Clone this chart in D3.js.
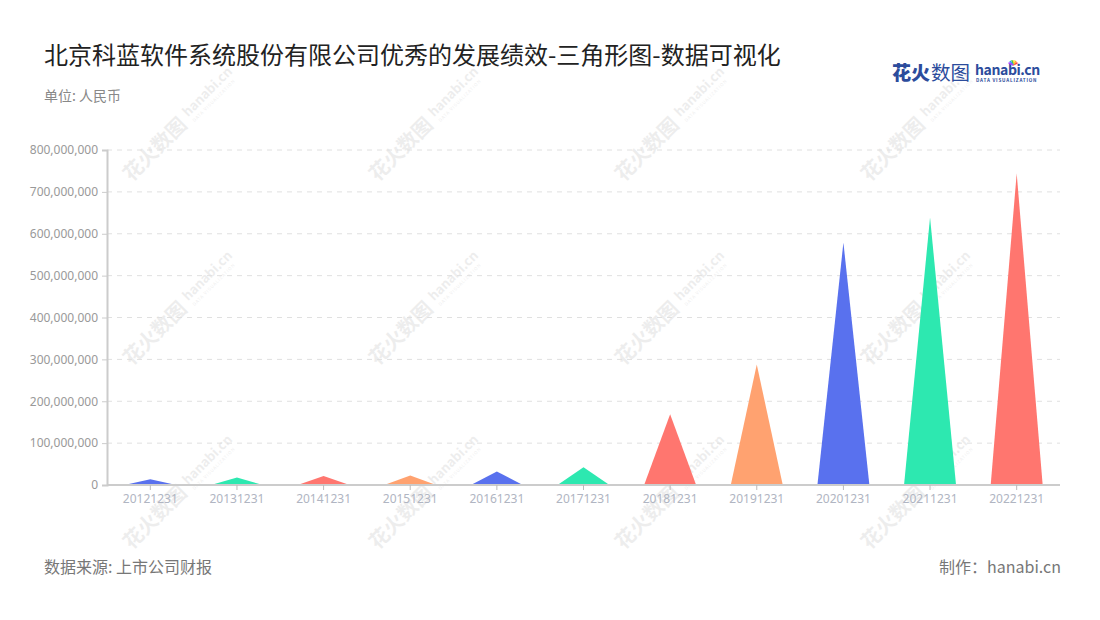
<!DOCTYPE html>
<html><head><meta charset="utf-8">
<script src="https://cdn.jsdelivr.net/npm/d3@7/dist/d3.min.js"></script>
<style>body{margin:0;background:#fff;font-family:"Noto Sans CJK SC","Noto Sans",sans-serif}</style>
</head><body><svg id="c" width="1100" height="620"></svg>
<script>
const categories = ["20121231","20131231","20141231","20151231","20161231","20171231","20181231","20191231","20201231","20211231","20221231"];
const values = [14000000,18000000,21500000,22500000,32000000,42500000,169000000,288000000,579000000,639000000,744000000];
const yTicks = [0,100000000,200000000,300000000,400000000,500000000,600000000,700000000,800000000];
const palette = ["#5971ee","#2de8b0","#ff766f","#ffa270"];

const svg = d3.select("#c");
const M = {l:107, r:1060, t:150, b:485};
const x = d3.scaleBand().domain(categories).range([M.l, M.r]);
const y = d3.scaleLinear().domain([0,800000000]).range([M.b, M.t]);

// watermarks
const wmX = [186,432,678,924], wmY=[118,302,486];
wmX.forEach(cx=>wmY.forEach(cy=>{
  const g = svg.append("g").attr("transform",`translate(${cx},${cy}) rotate(-45)`).attr("opacity",0.065);
  g.append("text").attr("x",-4).attr("y",7).attr("text-anchor","end").attr("font-size",20).attr("font-weight",700).attr("fill","#000").text("花火数图");
  g.append("text").attr("x",2).attr("y",1).attr("font-size",13).attr("font-weight",700).attr("fill","#000").text("hanabi.cn");
  g.append("text").attr("x",3).attr("y",9).attr("font-size",4.5).attr("fill","#000").attr("letter-spacing",0.8).text("DATA VISUALIZATION");
}));

// title
svg.append("text").attr("x",44).attr("y",64).attr("font-size",24).attr("fill","#222").text("北京科蓝软件系统股份有限公司优秀的发展绩效-三角形图-数据可视化");
svg.append("text").attr("x",44).attr("y",101).attr("font-size",14).attr("fill","#888").text("单位: 人民币");

// logo
const lg = svg.append("g");
lg.append("text").attr("x",892).attr("y",80).attr("font-size",19).attr("font-weight",900).attr("fill","#2c4c9c").text("花火");
lg.append("text").attr("x",931).attr("y",80).attr("font-size",19.5).attr("fill","#2c4c9c").text("数图");
lg.append("text").attr("x",975).attr("y",75).attr("font-size",14).attr("font-weight",700).attr("fill","#2c4c9c").attr("letter-spacing",-0.4).text("hanabi.cn");
lg.append("text").attr("x",976).attr("y",82).attr("font-size",4.6).attr("font-weight",700).attr("fill","#2c4c9c").attr("letter-spacing",0.8).text("DATA VISUALIZATION");
const spark=["#f44","#fa3","#fd3","#4c4","#39f","#a4f"];
spark.forEach((c,i)=>{const a=-Math.PI*(0.15+i*0.14);lg.append("line").attr("x1",1013).attr("y1",65).attr("x2",1013+5*Math.cos(a)).attr("y2",65+5*Math.sin(a)).attr("stroke",c).attr("stroke-width",1.5);});

// gridlines
svg.append("g").selectAll("line").data(yTicks.slice(1)).join("line")
  .attr("x1",M.l).attr("x2",M.r).attr("y1",d=>y(d)).attr("y2",d=>y(d))
  .attr("stroke","#e0e0e0").attr("stroke-dasharray","5,5");

// y axis
const ya = svg.append("g").attr("transform",`translate(${M.l},0)`)
  .call(d3.axisLeft(y).tickValues(yTicks).tickSize(5).tickPadding(4).tickFormat(d3.format(",")));
ya.select(".domain").attr("stroke","#ccc").attr("stroke-width",2);
ya.selectAll(".tick line").attr("stroke","#ccc");
ya.selectAll("text").attr("fill","#999").attr("font-size",12).attr("font-family","Noto Sans, sans-serif");

// triangles
svg.append("g").selectAll("path").data(categories).join("path")
  .attr("d",(d,i)=>{const c=x(d)+x.bandwidth()/2, w=x.bandwidth()*0.6/2;
    return `M${c-w},${y(0)}L${c},${y(values[i])}L${c+w},${y(0)}Z`;})
  .attr("fill",(d,i)=>palette[i%4]);

// x axis
const xa = svg.append("g").attr("transform",`translate(0,${M.b})`)
  .call(d3.axisBottom(x).tickSize(5).tickPadding(4));
xa.select(".domain").attr("stroke","#ccc").attr("stroke-width",2).attr("d",`M${M.l},0H${M.r}`);
xa.selectAll(".tick line").attr("stroke","#bbb");
xa.selectAll("text").attr("fill","#b0b5c2").attr("font-size",12).attr("font-family","Noto Sans, sans-serif");

// footer
svg.append("text").attr("x",44).attr("y",573).attr("font-size",16).attr("fill","#777").text("数据来源: 上市公司财报");
svg.append("text").attr("x",1061).attr("y",573).attr("text-anchor","end").attr("font-size",16).attr("fill","#777").text("制作：hanabi.cn");
</script></body></html>
